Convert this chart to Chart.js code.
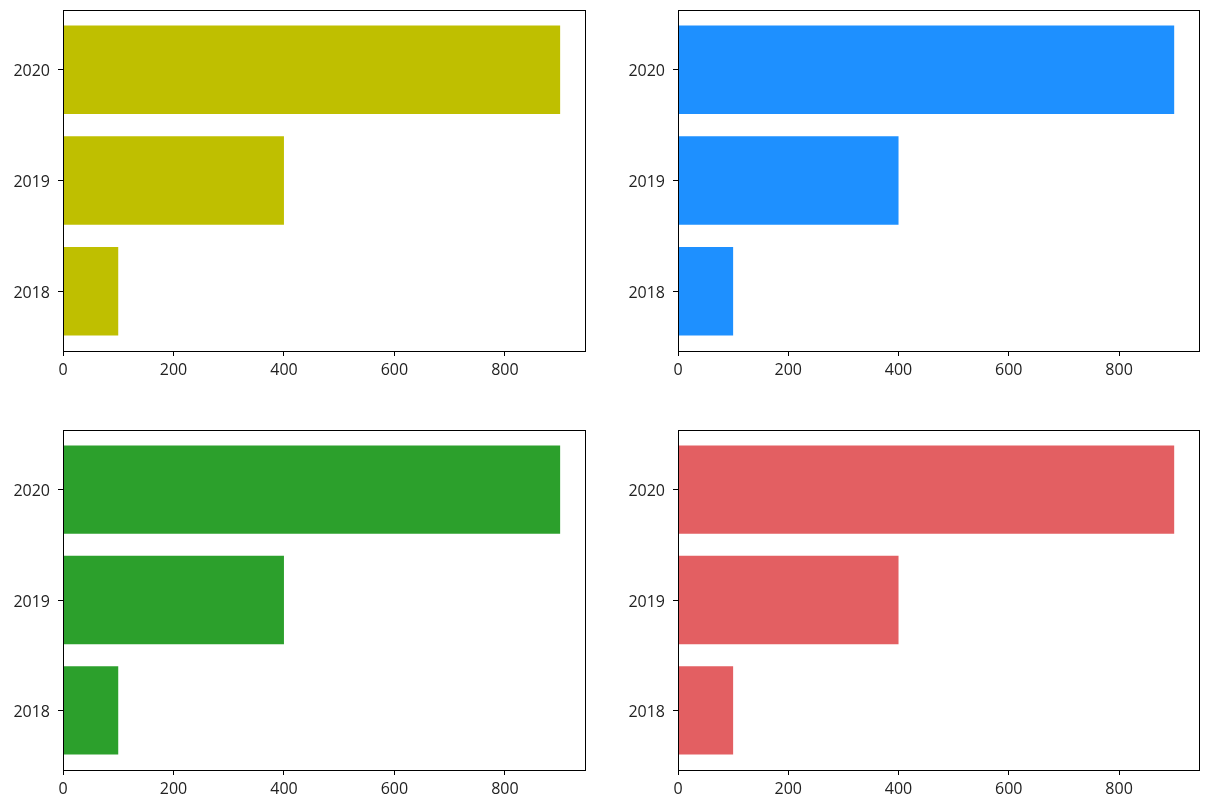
<!DOCTYPE html>
<html>
<head>
<meta charset="utf-8">
<script src="https://cdn.jsdelivr.net/npm/chart.js@4"></script>
<style>
  html, body { margin:0; padding:0; background:#fff; }
  body { width:1210px; height:808px; position:relative; overflow:hidden; }
  .box { position:absolute; width:605px; height:404px; }
</style>
</head>
<body>
<div class="box" style="left:0;top:0"><canvas id="c0"></canvas></div>
<div class="box" style="left:605px;top:0"><canvas id="c1"></canvas></div>
<div class="box" style="left:0;top:404px"><canvas id="c2"></canvas></div>
<div class="box" style="left:605px;top:404px"><canvas id="c3"></canvas></div>
<script>
const categories = ['2018', '2019', '2020'];
const values = [100, 400, 900];
const xTicks = [0, 200, 400, 600, 800];
const colors = ['#bfbf00', '#1e90ff', '#2ca02c', '#e35f62'];

// layout per panel: [yAxisWidth, paddingRight, paddingTop, xAxisHeight]
const layouts = [
  [63, 20, 10, 53],
  [73, 11, 10, 53],
  [63, 20, 26, 38],
  [73, 11, 26, 38]
];

const frame = {
  id: 'frame',
  afterDraw(chart) {
    const a = chart.chartArea, ctx = chart.ctx;
    ctx.save();
    ctx.strokeStyle = '#000';
    ctx.lineWidth = 1;
    ctx.strokeRect(Math.round(a.left) + 0.5, Math.round(a.top) + 0.5,
                   Math.round(a.right - a.left), Math.round(a.bottom - a.top));
    ctx.restore();
  }
};

const font = { family: 'Open Sans', size: 16 };

colors.forEach((col, i) => {
  const [yw, pr, pt, xh] = layouts[i];
  new Chart(document.getElementById('c' + i), {
    type: 'bar',
    data: {
      datasets: [{
        data: values.map((v, k) => ({ x: v, y: k })),
        backgroundColor: col,
        borderWidth: 0,
        categoryPercentage: 1,
        barPercentage: 0.8
      }]
    },
    options: {
      indexAxis: 'y',
      responsive: true,
      maintainAspectRatio: false,
      animation: false,
      layout: { padding: { left: 0, right: pr, top: pt, bottom: 0 } },
      plugins: { legend: { display: false }, tooltip: { enabled: false } },
      scales: {
        x: {
          type: 'linear', min: 0, max: 945, offset: false,
          afterBuildTicks: s => { s.ticks = xTicks.map(v => ({ value: v })); },
          afterFit: s => { s.height = xh; s.paddingLeft = 0; s.paddingRight = 0; },
          grid: { drawOnChartArea: false, drawTicks: true, tickLength: 5, color: '#000', offset: false },
          border: { display: true, color: '#000', width: 1 },
          ticks: { color: '#222', font, padding: 5, maxRotation: 0 }
        },
        y: {
          type: 'linear', min: -0.54, max: 2.54, offset: false,
          afterBuildTicks: s => { s.ticks = categories.map((c, k) => ({ value: k })); },
          afterFit: s => { s.width = yw; s.paddingTop = 0; s.paddingBottom = 0; },
          grid: { drawOnChartArea: false, drawTicks: true, tickLength: 5, color: '#000', offset: false },
          border: { display: true, color: '#000', width: 1 },
          ticks: { color: '#222', font, padding: 8, labelOffset: 2, callback: v => categories[v] }
        }
      }
    },
    plugins: [frame]
  });
});
</script>
</body>
</html>
